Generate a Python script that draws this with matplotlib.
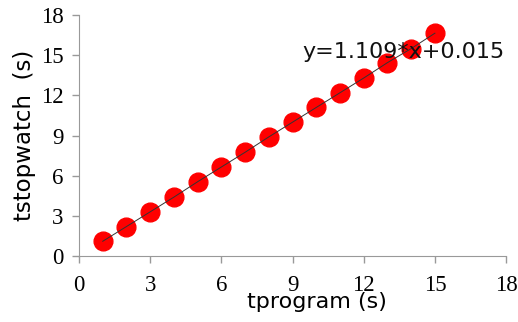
import numpy as np
import matplotlib.pyplot as plt

# ---------------- DATA ----------------
t_program = [1, 2, 3, 4, 5, 6, 7, 8, 9, 10, 11, 12, 13, 14, 15]
t_stopwatch = [1.1, 2.2, 3.3, 4.4, 5.55, 6.65, 7.75, 8.9, 10.0, 11.1, 12.2, 13.3, 14.45, 15.5, 16.65]
ticks = [0, 3, 6, 9, 12, 15, 18]
fit_label = "y=1.109*x+0.015"

# ---------------- PLOT ----------------
fig = plt.figure(figsize=(5.18, 3.22), dpi=100)
ax = fig.add_axes([0.1525, 0.205, 0.8245, 0.748])

ax.plot(t_program, t_stopwatch, "o", color="#ff0000", markersize=13.5, zorder=2)
ax.plot(t_program, t_stopwatch, "-", color="#333333", linewidth=0.7, zorder=3)

ax.set_xlim(0, 18)
ax.set_ylim(0, 18)
ax.set_xticks(ticks)
ax.set_yticks(ticks)
ax.tick_params(labelsize=16.5, color="#999999", length=5, width=1)
ax.tick_params(axis="x", pad=9)
ax.tick_params(axis="y", pad=6)
for lbl in ax.get_xticklabels() + ax.get_yticklabels():
    lbl.set_family("Liberation Serif")

for s in ["top", "right"]:
    ax.spines[s].set_visible(False)
for s in ["left", "bottom"]:
    ax.spines[s].set_color("#999999")

ax.text(0.997, 0.845, fit_label, transform=ax.transAxes, ha="right", va="center",
        fontsize=16, color="#111111", zorder=4)

# x label sits low and overlaps the tick labels, as in the original
fig.text(0.612, 0.063, "tprogram (s)", ha="center", va="center", fontsize=16)
fig.text(0.048, 0.58, "tstopwatch  (s)", ha="center", va="center", rotation=90, fontsize=16.5)

fig.savefig("out.png", dpi=100)
